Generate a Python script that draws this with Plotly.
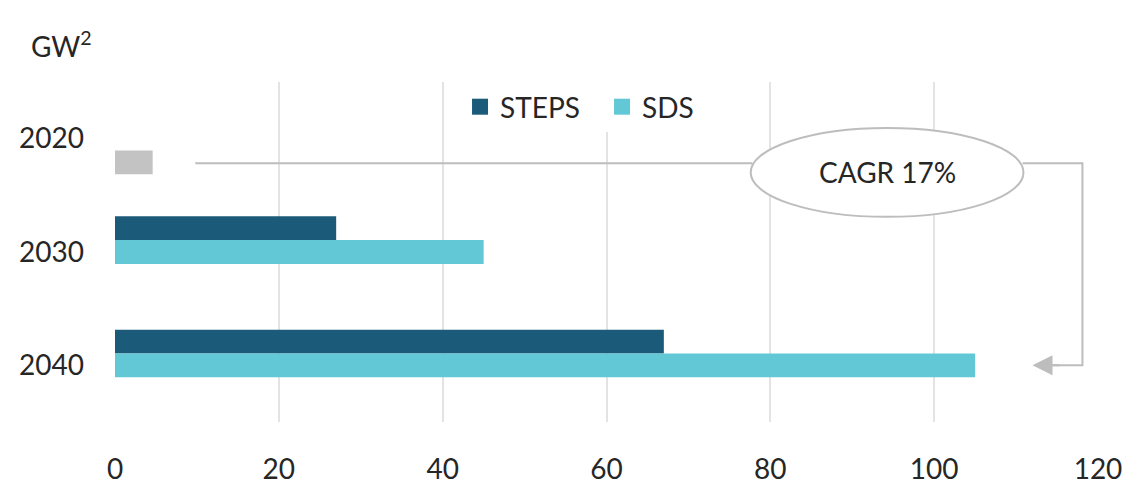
import plotly.graph_objects as go

years = ["2020", "2030", "2040"]
steps = [None, 27, 67]
sds = [None, 45, 105]
base_2020 = [4.6, None, None]
x_ticks = [0, 20, 40, 60, 80, 100, 120]
cagr_label = "CAGR 17%"
unit_label = "GW<sup>2</sup>"

C_STEPS = "#1b5a78"
C_SDS = "#63c8d6"
C_GREY = "#c3c3c3"
LINE = "#bdbdbd"
FONT = "Lato"
TXT = "#262626"
FS = 28

fig = go.Figure()
fig.add_trace(go.Bar(y=years, x=steps, orientation="h", name="STEPS", showlegend=False,
                     marker=dict(color=C_STEPS, line=dict(width=0))))
fig.add_trace(go.Bar(y=years, x=sds, orientation="h", name="SDS", showlegend=False,
                     marker=dict(color=C_SDS, line=dict(width=0))))
fig.add_trace(go.Bar(y=years, x=base_2020, orientation="h", name="2020",
                     showlegend=False, marker=dict(color=C_GREY, line=dict(width=0))))
# legend entries with larger square swatches
for nm, col in (("STEPS", C_STEPS), ("SDS", C_SDS)):
    fig.add_trace(go.Scatter(x=[None], y=[None], mode="markers", name=nm,
                             marker=dict(symbol="square", size=20, color=col)))

# connector path from 2020 bar to 2040 with ellipse label
fig.add_shape(type="path", xref="x", yref="y",
              path="M 9.8,0.217 L 77.8,0.217",
              line=dict(color=LINE, width=2))
fig.add_shape(type="path", xref="x", yref="y",
              path="M 110.8,0.217 L 118.1,0.217 L 118.1,2.0 L 114.0,2.0",
              line=dict(color=LINE, width=2))
fig.add_shape(type="circle", xref="x", yref="y",
              x0=77.6, x1=110.9, y0=-0.094, y1=0.69,
              line=dict(color=LINE, width=2), fillcolor="white")
fig.add_annotation(x=112.0, y=2.0, ax=115.5, ay=2.0, xref="x", yref="y",
                   axref="x", ayref="y", text="", showarrow=True,
                   arrowhead=2, arrowsize=2, arrowwidth=2, arrowcolor=LINE)
fig.add_annotation(x=94.25, y=0.298, xref="x", yref="y", text=cagr_label,
                   showarrow=False, font=dict(family=FONT, size=FS, color=TXT))
fig.add_annotation(x=-0.087, y=1.11, xref="paper", yref="paper", text=unit_label,
                   showarrow=False, xanchor="left", yanchor="middle",
                   font=dict(family=FONT, size=FS, color=TXT))

fig.update_layout(
    width=1124, height=488,
    margin=dict(l=115, r=26, t=82, b=66, autoexpand=False),
    paper_bgcolor="white", plot_bgcolor="white",
    barmode="group", bargap=0.37, bargroupgap=0,
    font=dict(family=FONT, size=FS, color=TXT),
    showlegend=True,
    legend=dict(orientation="h", x=0.351, y=1.0, xanchor="left", yanchor="top",
                bgcolor="white", font=dict(family=FONT, size=FS, color=TXT),
                traceorder="normal", itemwidth=30,
                entrywidth=97, entrywidthmode="pixels"),
    xaxis=dict(range=[0, 120], tickvals=x_ticks, showgrid=True, automargin=False,
               gridcolor="#e3e3e3", gridwidth=2, zeroline=False,
               showline=False, ticks="", ticklabelstandoff=28,
               tickfont=dict(family=FONT, size=FS, color=TXT)),
    yaxis=dict(type="category", categoryorder="array", categoryarray=years,
               range=[2.5, -0.5], showgrid=False, zeroline=False, automargin=False,
               showline=False, ticks="", ticklabelstandoff=30,
               tickfont=dict(family=FONT, size=FS, color=TXT)),
)

fig.write_html("out.html")
